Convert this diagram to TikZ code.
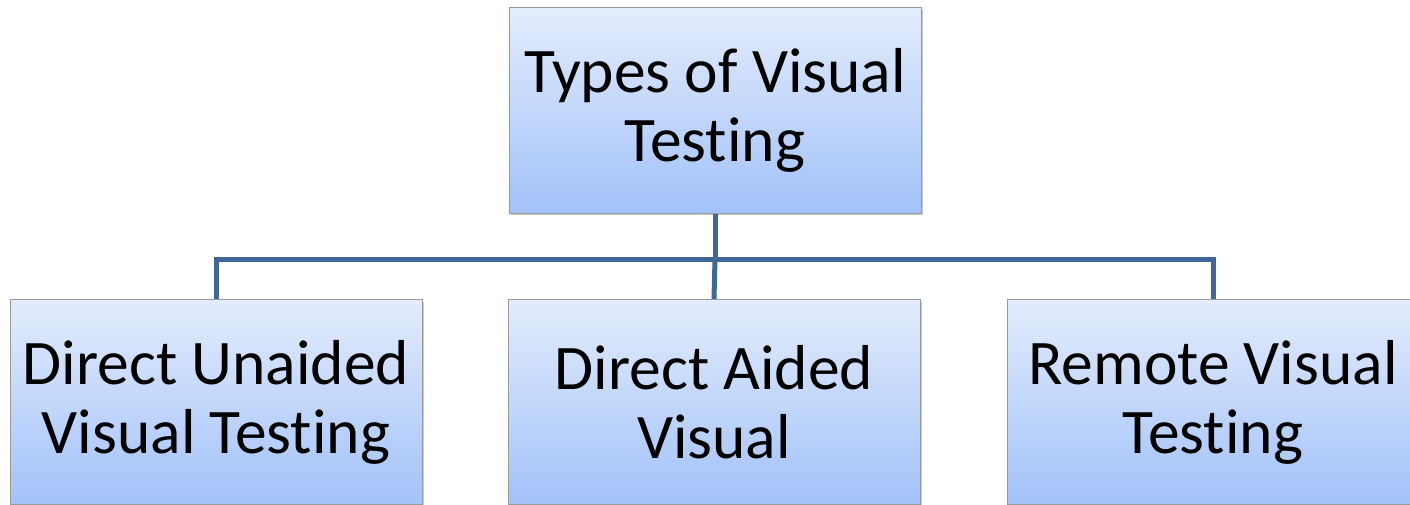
\documentclass[tikz,border=0pt]{standalone}
\usepackage{fontspec}
\setmainfont{Carlito}[Ligatures=NoCommon]
\usetikzlibrary{shadows}
\newcommand{\nolig}{\kern0pt }
\definecolor{boxtop}{HTML}{E3ECFC}
\definecolor{boxbot}{HTML}{A2C2F9}
\definecolor{boxline}{HTML}{9A9A9A}
\definecolor{conn}{HTML}{3F6797}
\tikzset{
  box/.style={draw=boxline, line width=1pt, top color=boxtop, bottom color=boxbot,
    minimum width=412pt, minimum height=205pt, inner sep=0pt, align=center,
    font=\fontsize{63.5}{69}\selectfont,
    drop shadow={shadow xshift=2pt, shadow yshift=-2pt, opacity=0.35, fill=black!60}},
  conn/.style={draw=conn, line width=5pt}
}
\begin{document}
\begin{tikzpicture}[x=1pt,y=-1pt]
\useasboundingbox (0,0) rectangle (1410,505);
\clip (0,0) rectangle (1410,505);
\node[box] (top) at (715,110.5) {Types of Visual\\Test\nolig ing};
\node[box] (l) at (216,402) {Direct Unaided\\Visual Test\nolig ing};
\node[box] (m) at (714,402) {Direct Aided\\Visual};
\node[box] (r) at (1213,402) {Remote Visual\\Test\nolig ing};
\coordinate (j) at (715,259);
\draw[conn] (top.south) -- (j);
\draw[conn] (l.north) |- (r.north |- j) -- (r.north);
\draw[conn] (j) -- (m.north);
\end{tikzpicture}
\end{document}
